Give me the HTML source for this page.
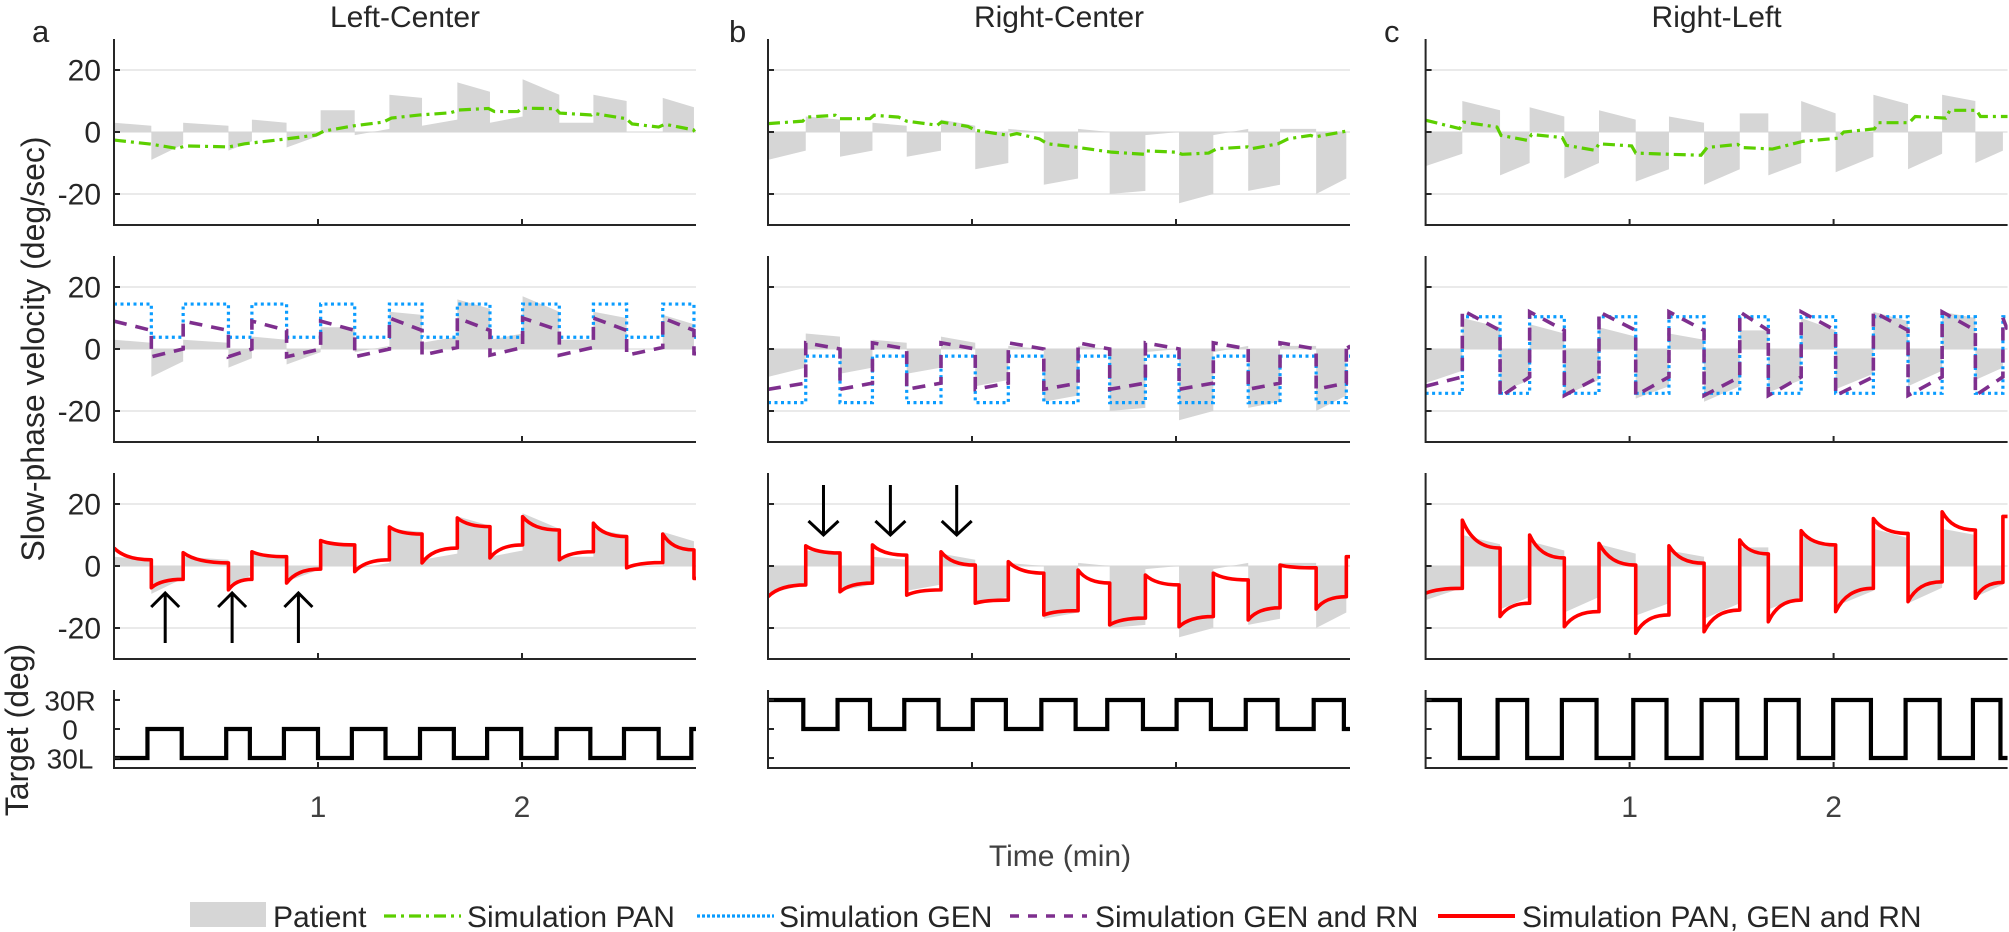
<!DOCTYPE html>
<html><head><meta charset="utf-8"><style>
html,body{margin:0;padding:0;background:#fff}
svg{display:block;font-family:"Liberation Sans",Arial,sans-serif}
</style></head><body>
<svg id="fig" width="2009" height="932" viewBox="0 0 2009 932" xmlns="http://www.w3.org/2000/svg"></svg>
<script>
// ---------- DATA ----------
const edgesA=[0,0.183,0.339,0.561,0.676,0.846,1.013,1.18,1.35,1.51,1.683,1.843,2.003,2.183,2.35,2.513,2.69,2.843,2.853];
const edgesB=[0,0.185,0.353,0.512,0.68,0.848,1.016,1.178,1.352,1.52,1.675,1.85,2.015,2.183,2.354,2.51,2.687,2.835,2.853];
const edgesC=[0,0.18,0.365,0.51,0.68,0.85,1.03,1.193,1.365,1.54,1.68,1.841,2.01,2.195,2.365,2.532,2.695,2.83,2.853];

const patStartA=[3,-9,3,-6,4,-5,7,-1,12,2,16,3,17,3,12,0,11,0];
const patEndA=[2,-4,2,-3,3,-1,7,1,11,4,13,5,12,3,10,0,8,0];
const patStartB=[-9,5,-8,3,-8,4,-12,1,-17,1,-20,-1,-23,-1,-19,1,-20,0];
const patEndB=[-6,4,-6,2,-6,2,-10,0,-15,0,-19,0,-20,1,-17,1,-15,0];
const patStartC=[-11,10,-14,8,-15,7,-16,5,-17,6,-14,10,-13,12,-12,12,-10,0];
const patEndC=[-7,7,-10,5,-10,4,-12,3,-12,6,-10,6,-8,9,-7,10,-6,0];

const redStartA=[5.8,-7,4.3,-7.7,4.6,-5.5,8.2,-1.8,12.6,1,15.5,2.6,15.9,2,13.8,-0.6,10.3,-4];
const redEndA=[2,-4.3,1,-4.3,3,-1,6.8,2,10.3,5.8,12.7,6.8,11.6,4.6,9.5,1.1,5.2,-4];
const redStartB=[-9.9,6.5,-8.3,6.8,-9.4,4.6,-12,1.4,-15.8,-1.3,-19,-2.9,-19.6,-2.3,-17.4,0.3,-13.9,3];
const redEndB=[-6.1,4.2,-5.5,3.5,-7.7,0.3,-11,-2.3,-14.4,-5.5,-16.8,-6.1,-16.3,-4.5,-13.5,-0.6,-9.9,3];
const redStartC=[-8.8,14.8,-16.3,10,-19.6,7.3,-21.7,6.5,-21.2,8.4,-18,11.4,-14.7,15.3,-11.5,17.5,-10.4,16];
const redEndC=[-7.2,5.8,-12,2.6,-14.7,0.3,-15.8,0.9,-14.2,3.9,-11,6.8,-7.2,10.5,-5.1,11.6,-5.3,16];

const genA=[14.5,3.8,14.5,3.8,14.5,3.8,14.5,3.8,14.5,3.8,14.5,3.8,14.5,3.8,14.5,3.8,14.5,3.8];
const genB=[-17.3,-2.3,-17.3,-2.3,-17.3,-2.3,-17.3,-2.3,-17.3,-2.3,-17.3,-2.3,-17.3,-2.3,-17.3,-2.3,-17.3,-2.3];
const genC=[-14.3,10.4,-14.3,10.4,-14.3,10.4,-14.3,10.4,-14.3,10.4,-14.3,10.4,-14.3,10.4,-14.3,10.4,-14.3,10.4];

const gnrStartA=[9,-2.5,9,-2.5,9,-2.5,9,-2.5,10,-2,10,-2,10,-2,10,-2,10,-2];
const gnrEndA=[6,0,6,0,6,0,6,0,6,0.5,6,0.5,6,0.5,6,0.5,6,0];
const gnrStartB=[-13,2,-13,2,-13,2,-13,2,-13,2,-13,2,-13,2,-13,2,-13,2];
const gnrEndB=[-11,0,-11,0,-11,0,-11,0,-11,0,-11,0,-11,0,-11,0,-11,0];
const gnrStartC=[-12,12.5,-15.5,12,-15,12,-15,12,-15,12,-15,12,-15,12,-15,12,-15,10];
const gnrEndC=[-9,6,-9,6,-9,6,-9,6,-9,6,-9,6,-9,6,-9,6,-9,6];

const panTA=[0,0.178,0.31,0.35,0.565,0.64,0.836,0.99,1.03,1.176,1.32,1.36,1.5,1.65,1.69,1.835,1.865,1.98,2.0,2.166,2.185,2.34,2.35,2.51,2.54,2.67,2.7,2.84,2.853];
const panVA=[-2.6,-3.9,-5.3,-4.5,-4.8,-3.8,-2.3,-1,0.3,2,3.2,4.5,5.5,6.2,7.1,7.6,6.6,6.6,7.7,7.5,6.1,5.5,6,4.3,2.6,1.6,2.5,0.7,-0.5];
const panTB=[0,0.17,0.19,0.33,0.35,0.5,0.52,0.64,0.68,0.83,0.85,0.98,1.02,1.18,1.22,1.33,1.37,1.5,1.684,1.848,1.857,2.0,2.03,2.16,2.2,2.35,2.37,2.5,2.55,2.66,2.68,2.853];
const panVB=[2.7,3.5,4.8,5.4,4.3,4.3,5.4,4.8,3.5,2.2,3.2,1.8,0.5,-1.1,-0.5,-2.2,-3.8,-4.8,-6.5,-7.2,-6.1,-6.5,-7.2,-6.8,-5.4,-4.8,-5.4,-3.8,-2.2,-1.1,-1.6,0.5];
const panTC=[0,0.166,0.186,0.35,0.37,0.5,0.52,0.67,0.69,0.83,0.85,1.01,1.03,1.2,1.35,1.38,1.53,1.55,1.7,1.85,2.02,2.05,2.2,2.22,2.37,2.4,2.55,2.57,2.7,2.72,2.853];
const panVC=[3.8,1.1,3.2,1.6,-1.1,-2.7,-0.8,-1.8,-4.3,-5.9,-3.8,-4.5,-6.8,-7.2,-7.5,-5,-4,-5,-5.5,-3,-2,0,1,3,3,5,4.5,7,7,5,5];

const tgtEdgesA=[0,0.164,0.332,0.55,0.666,0.833,1.0,1.166,1.331,1.5,1.666,1.829,1.996,2.17,2.335,2.5,2.67,2.83,2.853];
const tgtEdgesB=[0,0.173,0.341,0.5,0.668,0.836,1.004,1.166,1.34,1.508,1.663,1.838,2.003,2.171,2.342,2.498,2.675,2.823,2.853];
const tgtEdgesC=[0,0.168,0.353,0.498,0.668,0.838,1.018,1.181,1.353,1.528,1.668,1.829,1.998,2.183,2.353,2.52,2.683,2.818,2.853];
const tgtLevA=[-30,0,-30,0,-30,0,-30,0,-30,0,-30,0,-30,0,-30,0,-30,0];
const tgtLevB=[30,0,30,0,30,0,30,0,30,0,30,0,30,0,30,0,30,0];
const tgtLevC=[30,-30,30,-30,30,-30,30,-30,30,-30,30,-30,30,-30,30,-30,30,-30];

const xTicks=[1,2];
const yTicks=[-20,0,20];
const tgtTicks=[-30,0,30];
const tgtTickLabels=["30L","0","30R"];
const colTitles=["Left-Center","Right-Center","Right-Left"];
const colLetters=["a","b","c"];
const legendLabels=["Patient","Simulation PAN","Simulation GEN","Simulation GEN and RN","Simulation PAN, GEN and RN"];

// ---------- LAYOUT ----------
const NS="http://www.w3.org/2000/svg";
const svg=document.getElementById('fig');
const colX0=[114,768,1425.6], plotW=582, tMax=2.853;
const rows=[{top:39,bot:225,lo:-30,hi:30},{top:256,bot:442,lo:-30,hi:30},{top:473,bot:659,lo:-30,hi:30},{top:690,bot:768,lo:-40.3,hi:40.3}];
const INK="#262626";
function el(tag,attrs,parent){const e=document.createElementNS(NS,tag);for(const k in attrs)e.setAttribute(k,attrs[k]);(parent||svg).appendChild(e);return e;}
function xs(c){return t=>colX0[c]+t/tMax*plotW;}
function ys(r){const R=rows[r];return v=>R.bot-(v-R.lo)/(R.hi-R.lo)*(R.bot-R.top);}

const cols=[
 {edges:edgesA,ps:patStartA,pe:patEndA,rs:redStartA,re:redEndA,gen:genA,gs:gnrStartA,ge:gnrEndA,pt:panTA,pv:panVA,te:tgtEdgesA,tl:tgtLevA},
 {edges:edgesB,ps:patStartB,pe:patEndB,rs:redStartB,re:redEndB,gen:genB,gs:gnrStartB,ge:gnrEndB,pt:panTB,pv:panVB,te:tgtEdgesB,tl:tgtLevB},
 {edges:edgesC,ps:patStartC,pe:patEndC,rs:redStartC,re:redEndC,gen:genC,gs:gnrStartC,ge:gnrEndC,pt:panTC,pv:panVC,te:tgtEdgesC,tl:tgtLevC}
];
const defs=el('defs',{});
for(let c=0;c<3;c++){
 const X=xs(c), D=cols[c], n=D.edges.length-1;
 for(let r=0;r<4;r++){
  const Y=ys(r), R=rows[r];
  const cp=el('clipPath',{id:'cp'+c+r},defs);
  el('rect',{x:colX0[c],y:R.top,width:plotW,height:R.bot-R.top},cp);
  const g=el('g',{});
  
  
  const pg=el('g',{'clip-path':'url(#cp'+c+r+')'},g);
  if(r<3){
   yTicks.forEach(v=>{
    const gl=el('line',{x1:colX0[c],x2:colX0[c]+plotW,y1:Y(v),y2:Y(v),stroke:'#e3e3e3','stroke-width':1.6},pg);
    
    
   });
   // patient
   let d='M'+X(0)+','+Y(0);
   for(let k=0;k<n;k++){d+=' L'+X(D.edges[k])+','+Y(D.ps[k])+' L'+X(D.edges[k+1])+','+Y(D.pe[k]);}
   d+=' L'+X(tMax)+','+Y(0)+' Z';
   const pa=el('path',{d:d,fill:'#d6d6d6',stroke:'none'},pg);
   
   
  }
  if(r===0){
   let d='';D.pt.forEach((t,i)=>{d+=(i?' L':'M')+X(t)+','+Y(D.pv[i]);});
   const p=el('path',{d:d,fill:'none',stroke:'#5ccf00','stroke-width':3.2,'stroke-dasharray':'12 5 3 5'},pg);
   
   
  }
  if(r===1){
   let d='';
   for(let k=0;k<n;k++){d+=(k?' L':'M')+X(D.edges[k])+','+Y(D.gen[k])+' L'+X(D.edges[k+1])+','+Y(D.gen[k]);}
   const p=el('path',{d:d,fill:'none',stroke:'#0a9cff','stroke-width':3.2,'stroke-dasharray':'3 3.5'},pg);
   
   
   let d2='';
   for(let k=0;k<n;k++){d2+=(k?' L':'M')+X(D.edges[k])+','+Y(D.gs[k])+' L'+X(D.edges[k+1])+','+Y(D.ge[k]);}
   const p2=el('path',{d:d2,fill:'none',stroke:'#7e2f8e','stroke-width':3.6,'stroke-dasharray':'13 9'},pg);
   
   
  }
  if(r===2){
   let d='';
   for(let k=0;k<n;k++){
    const x0=X(D.edges[k]),x1=X(D.edges[k+1]),y0=Y(D.rs[k]),y1=Y(D.re[k]),w=x1-x0;
    d+=(k?' L':'M')+x0+','+y0+' C'+(x0+0.2*w)+','+(y0+0.65*(y1-y0))+' '+(x0+0.5*w)+','+y1+' '+x1+','+y1;
   }
   const p=el('path',{d:d,fill:'none',stroke:'#ff0000','stroke-width':3.6,'stroke-linejoin':'round'},pg);
   
   
  }
  if(r===3){
   let d='';
   for(let k=0;k<D.te.length-1;k++){d+=(k?' L':'M')+X(D.te[k])+','+Y(D.tl[k])+' L'+X(D.te[k+1])+','+Y(D.tl[k]);}
   const p=el('path',{d:d,fill:'none',stroke:'#000','stroke-width':4.2},pg);
   
   
  }
  // axes
  const ax=el('path',{d:'M'+colX0[c]+','+R.top+' L'+colX0[c]+','+R.bot+' L'+(colX0[c]+plotW)+','+R.bot,fill:'none',stroke:INK,'stroke-width':2},g);
  
  
  const ytv=r<3?yTicks:tgtTicks;
  ytv.forEach((v,i)=>{
   const tk=el('line',{x1:colX0[c],x2:colX0[c]+6,y1:Y(v),y2:Y(v),stroke:INK,'stroke-width':2},g);
   
   
   if(c===0){
    let tx;
    if(r<3){tx=el('text',{x:101,y:Y(v)+10.5,'text-anchor':'end','font-size':30,fill:INK},g);tx.textContent=String(v);}
    else{tx=el('text',{x:70,y:Y(v)+10.5,'text-anchor':'middle','font-size':28,fill:INK},g);tx.textContent=tgtTickLabels[i];}
    
    
   }
  });
  xTicks.forEach(t=>{
   const tk=el('line',{x1:X(t),x2:X(t),y1:R.bot,y2:R.bot-6,stroke:INK,'stroke-width':2},g);
   
   
   if(r===3 && c!==1){
    const tx=el('text',{x:X(t),y:817,'text-anchor':'middle','font-size':30,fill:'#404040'},g);
    tx.textContent=String(t);
    
    
   }
  });
 }
 const ti=el('text',{x:colX0[c]+plotW/2,y:27,'text-anchor':'middle','font-size':30,fill:INK});
 ti.textContent=colTitles[c];
 
 
 const lt=el('text',{x:[32,729,1384][c],y:42,'font-size':31,fill:INK});
 lt.textContent=colLetters[c];
 
 
}
// arrows
const arrowUpT=[0.251,0.579,0.904];
const arrowDownT=[0.272,0.6,0.925];
arrowUpT.forEach(t=>{
 const x=xs(0)(t);
 const a=el('path',{d:'M'+x+',643 L'+x+',594 M'+(x-14)+',607 L'+x+',593 L'+(x+14)+',607',fill:'none',stroke:'#000','stroke-width':3});
 
 
});
arrowDownT.forEach(t=>{
 const x=xs(1)(t);
 const a=el('path',{d:'M'+x+',485 L'+x+',534 M'+(x-15)+',521 L'+x+',535 L'+(x+15)+',521',fill:'none',stroke:'#000','stroke-width':3});
 
 
});
// axis titles
const yt=el('text',{x:0,y:0,transform:'translate(44,349) rotate(-90)','text-anchor':'middle','font-size':32,fill:INK});
yt.textContent='Slow-phase velocity (deg/sec)';


const yt2=el('text',{x:0,y:0,transform:'translate(28,730) rotate(-90)','text-anchor':'middle','font-size':32,fill:INK});
yt2.textContent='Target (deg)';


const xt=el('text',{x:1060,y:866,'text-anchor':'middle','font-size':30,fill:'#404040'});
xt.textContent='Time (min)';


// legend
const lg=el('g',{});


const lp=el('rect',{x:190,y:902,width:76,height:25,fill:'#d6d6d6'},lg);


const sw=[{x:384,c:'#5ccf00',da:'12 5 3 5',w:3.2},{x:697,c:'#0a9cff',da:'3 2',w:3.2},{x:1010,c:'#7e2f8e',da:'9 9',w:3.6},{x:1438,c:'#ff0000',da:'',w:4}];
sw.forEach((s,i)=>{
 const l=el('line',{x1:s.x,x2:s.x+77,y1:916,y2:916,stroke:s.c,'stroke-width':s.w,'stroke-dasharray':s.da},lg);
 
 
});
const lx=[273,467,779,1095,1522];
legendLabels.forEach((s,i)=>{
 const t=el('text',{x:lx[i],y:927,'font-size':30,fill:INK},lg);
 t.textContent=s;
 
 
});
</script>
</body></html>
